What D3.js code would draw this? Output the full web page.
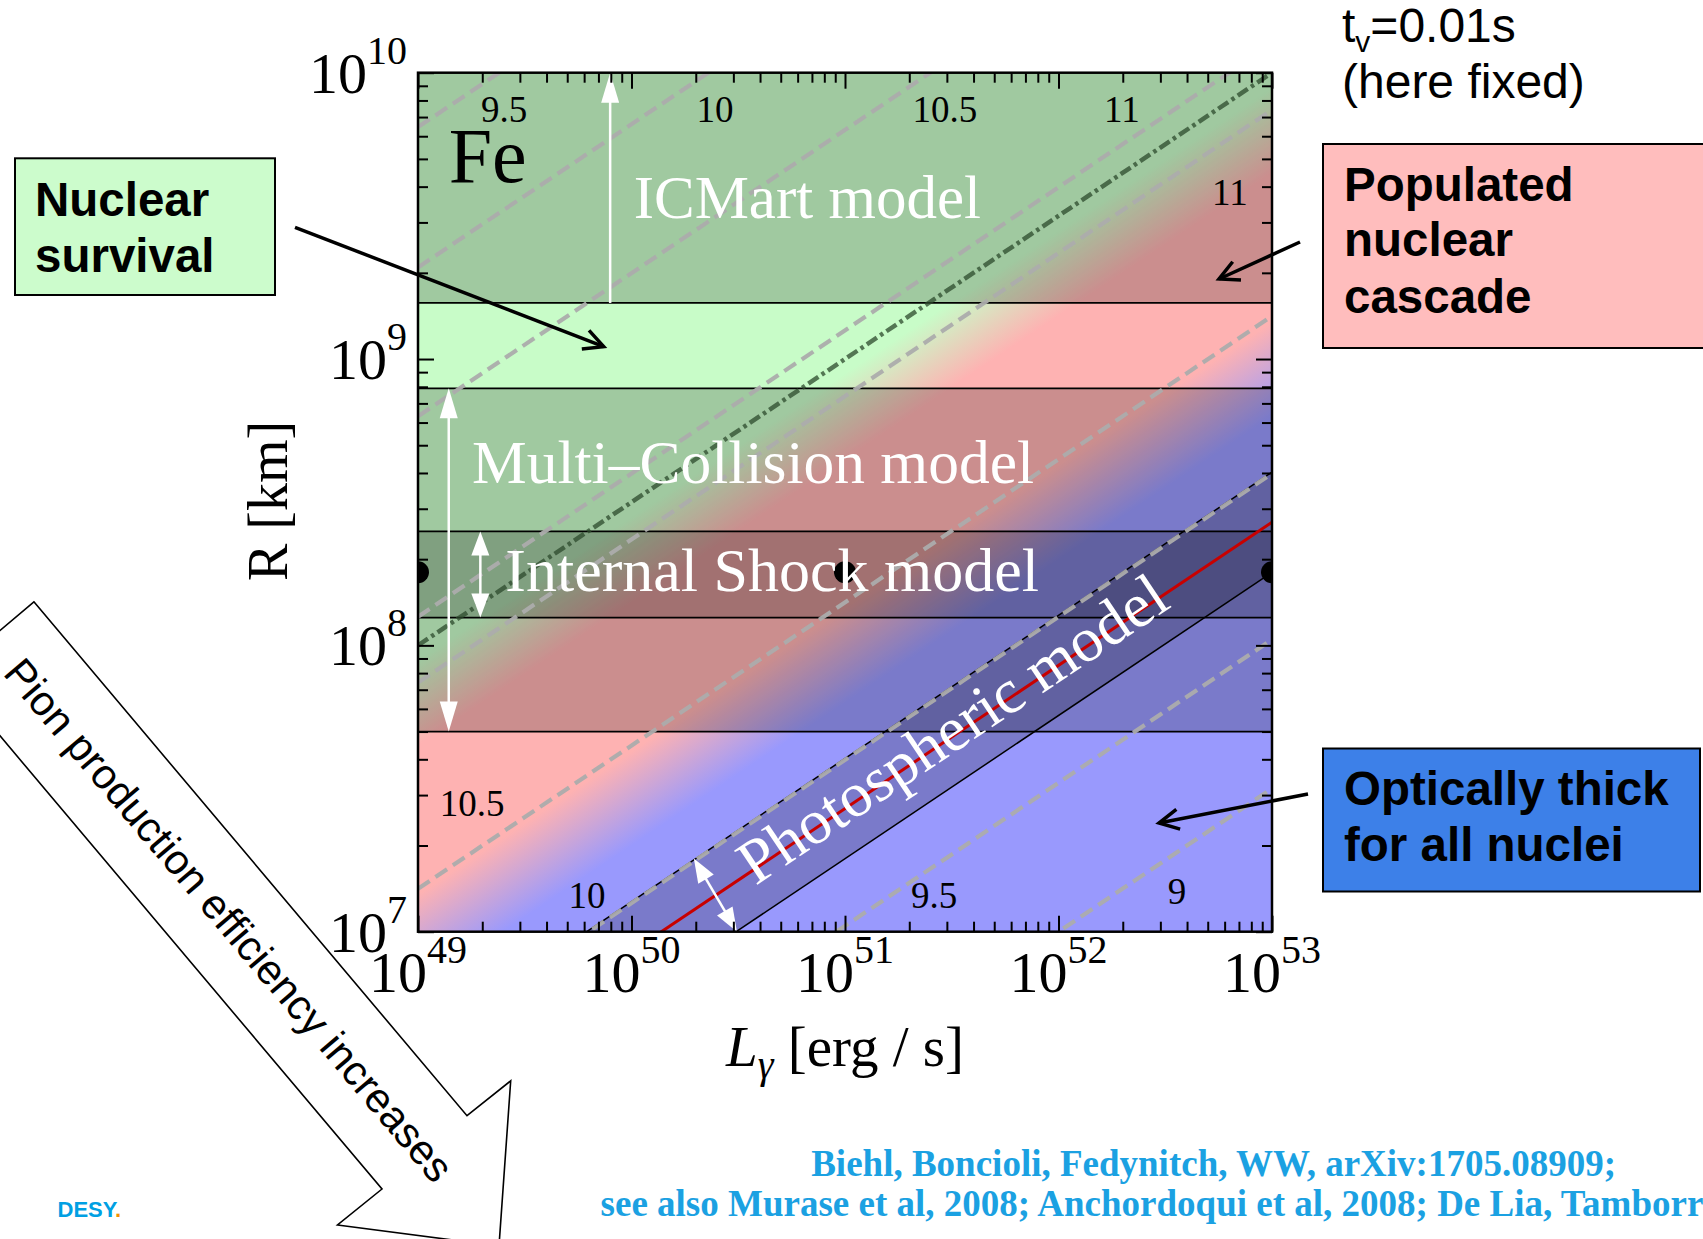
<!DOCTYPE html>
<html>
<head>
<meta charset="utf-8">
<script src="https://cdn.jsdelivr.net/npm/d3@7"></script>
<style>
  html, body { margin: 0; padding: 0; background: #fff; }
  svg { display: block; }
</style>
</head>
<body>
<svg id="chart" width="1703" height="1239"></svg>
<script>
// Parameter space of GRB emission models for iron nuclei:
// gamma-ray luminosity L_gamma [erg/s] versus collision radius R [km], t_v = 0.01 s.

// ---- axis decades -------------------------------------------------------
const lumExponents = [49, 50, 51, 52, 53];
const radiusExponents = [7, 8, 9, 10];

// ---- horizontal model regions (R in km) --------------------------------
const bandNames = ["ICMart", "Multi-Collision", "Internal Shock"];
const bandRmin = [1.57e9, 5e7, 1.25e8];
const bandRmax = [1e10, 7.9e8, 2.5e8];
const boundaryR = [1.57e9, 7.9e8, 2.5e8, 1.25e8, 5e7];

// ---- diagonal lines R ∝ L^(1/2), given as log10 R [km] at L = 1e52 erg/s --
const photoCenterR52 = 7.93;
const photoEdgesR52 = [8.105, 7.755];
const ridgeR52 = 9.5;
const contourR52 = [11.31, 10.82, 10.30, 9.60, 9.37, 8.65, 8.10, 7.52, 7.00];

// regime colour field (nuclear survival / populated cascade / optically thick)
const fieldStopR52 = [9.45, 9.15, 8.63, 8.30];
const fieldStopColors = ["#c8fcc8", "#feb2b2", "#feb2b2", "#9999fd"];

// contour labels: log10 of maximal energy, positions as log10 L, log10 R
const contourLabelText = ["9.5", "10", "10.5", "11", "11", "10.5", "10", "9.5", "9"];
const contourLabelL = [49.403, 50.391, 51.468, 52.297, 52.803, 49.253, 49.792, 51.417, 52.555];
const contourLabelR = [9.873, 9.873, 9.873, 9.873, 9.583, 7.449, 7.128, 7.125, 7.142];

// range arrows of the models
const arrowLogL = [49.90, 49.144, 49.292];
const arrowFromR = [1.57e9, 7.9e8, 2.5e8];
const arrowToR = [1e10, 5e7, 1.25e8];
const arrowDouble = [false, true, true];
const photoArrowL = [50.292, 50.494];
const photoArrowR = [7.256, 7.0];

// benchmark points of the internal shock model
const dotL = [1e49, 1e51, 1e53];
const dotR = [1.8e8, 1.8e8, 1.8e8];

// ---- layout -------------------------------------------------------------
const plot = { left: 418, right: 1272, top: 72.7, bottom: 931.7 };
const serif = "'Liberation Serif', 'Times New Roman', serif";
const sans = "'Liberation Sans', Arial, sans-serif";

const x = d3.scaleLog().domain([1e49, 1e53]).range([plot.left, plot.right]);
const y = d3.scaleLog().domain([1e7, 1e10]).range([plot.bottom, plot.top]);
// pixel y of the diagonal line labelled c at luminosity L
const diagY = (c, L) => y(Math.pow(10, c + 0.5 * (Math.log10(L) - 52)));

const svg = d3.select("#chart");
const defs = svg.append("defs");
defs.append("clipPath").attr("id", "plotClip").append("rect")
  .attr("x", plot.left).attr("y", plot.top)
  .attr("width", plot.right - plot.left).attr("height", plot.bottom - plot.top);

// ---- big outline arrow on the left --------------------------------------
const bigArrow = [[33.9, 601.8], [467, 1115.7], [510.7, 1080.8], [499, 1246],
                  [337.5, 1225], [382, 1189], [-51.9, 674.3]];
svg.append("polygon").attr("points", bigArrow.map(p => p.join(",")).join(" "))
  .attr("fill", "#fff").attr("stroke", "#000").attr("stroke-width", 1.6)
  .attr("stroke-linejoin", "miter");
svg.append("text")
  .attr("transform", "translate(229,920) rotate(49.8)")
  .attr("text-anchor", "middle").attr("dominant-baseline", "central")
  .attr("font-family", sans).attr("font-size", 42).attr("fill", "#000")
  .text("Pion production efficiency increases");

// ---- plot content (clipped) ---------------------------------------------
const inner = svg.append("g").attr("clip-path", "url(#plotClip)");

// regime colour field as a gradient perpendicular to the R ∝ L^(1/2) lines
const cHi = 9.8, cLo = 8.0, Lref = 1e51;
const ax0 = x(Lref), ay0 = diagY(cHi, Lref);
const dvx = x(1e52) - x(1e51), dvy = diagY(9, 1e52) - diagY(9, 1e51);
const dlen = Math.hypot(dvx, dvy);
const nx = -dvy / dlen, ny = dvx / dlen;
const sep = (diagY(cLo, Lref) - diagY(cHi, Lref)) * (dvx / dlen);
const grad = defs.append("linearGradient").attr("id", "regimeField")
  .attr("gradientUnits", "userSpaceOnUse")
  .attr("x1", ax0).attr("y1", ay0)
  .attr("x2", ax0 + nx * sep).attr("y2", ay0 + ny * sep);
fieldStopR52.forEach((c, i) => {
  grad.append("stop").attr("offset", (cHi - c) / (cHi - cLo))
    .attr("stop-color", fieldStopColors[i]);
});
inner.append("rect")
  .attr("x", plot.left).attr("y", plot.top)
  .attr("width", plot.right - plot.left).attr("height", plot.bottom - plot.top)
  .attr("fill", "url(#regimeField)");

// shaded model regions
inner.selectAll("rect.band").data(bandNames).join("rect").attr("class", "band")
  .attr("x", plot.left).attr("width", plot.right - plot.left)
  .attr("y", (d, i) => y(bandRmax[i]))
  .attr("height", (d, i) => y(bandRmin[i]) - y(bandRmax[i]))
  .attr("fill", "#000").attr("fill-opacity", 0.2);

const photoPoly = [
  [x(1e49), diagY(photoEdgesR52[0], 1e49)], [x(1e53), diagY(photoEdgesR52[0], 1e53)],
  [x(1e53), diagY(photoEdgesR52[1], 1e53)], [x(1e49), diagY(photoEdgesR52[1], 1e49)]
];
inner.append("polygon").attr("points", photoPoly.map(p => p.join(",")).join(" "))
  .attr("fill", "#000").attr("fill-opacity", 0.2);

// band boundaries
inner.selectAll("line.boundary").data(boundaryR).join("line").attr("class", "boundary")
  .attr("x1", plot.left).attr("x2", plot.right)
  .attr("y1", d => y(d)).attr("y2", d => y(d))
  .attr("stroke", "#000").attr("stroke-width", 1.8);

// photospheric band edges and central line
inner.selectAll("line.photoEdge").data(photoEdgesR52).join("line").attr("class", "photoEdge")
  .attr("x1", x(1e49)).attr("x2", x(1e53))
  .attr("y1", d => diagY(d, 1e49)).attr("y2", d => diagY(d, 1e53))
  .attr("stroke", "#000").attr("stroke-width", 1.5);
inner.append("line")
  .attr("x1", x(1e49)).attr("x2", x(1e53))
  .attr("y1", diagY(photoCenterR52, 1e49)).attr("y2", diagY(photoCenterR52, 1e53))
  .attr("stroke", "#c80000").attr("stroke-width", 3);

// contours of maximal energy
inner.selectAll("line.contour").data(contourR52).join("line").attr("class", "contour")
  .attr("x1", x(1e49)).attr("x2", x(1e53))
  .attr("y1", d => diagY(d, 1e49)).attr("y2", d => diagY(d, 1e53))
  .attr("stroke", "#acacac").attr("stroke-opacity", 0.95)
  .attr("stroke-width", 4.2).attr("stroke-dasharray", "14,7");
inner.append("line")
  .attr("x1", x(1e49)).attr("x2", x(1e53))
  .attr("y1", diagY(ridgeR52, 1e49)).attr("y2", diagY(ridgeR52, 1e53))
  .attr("stroke", "#2c4a2c").attr("stroke-opacity", 0.75)
  .attr("stroke-width", 4.5).attr("stroke-dasharray", "12,4,3.5,4");

// benchmark points
inner.selectAll("circle.bench").data(dotL).join("circle").attr("class", "bench")
  .attr("cx", d => x(d)).attr("cy", (d, i) => y(dotR[i])).attr("r", 11)
  .attr("fill", "#000");

// white range arrows
function headPoints(tx, ty, ux, uy, len, half) {
  const bx = tx - ux * len, by = ty - uy * len;
  return [[tx, ty], [bx - uy * half, by + ux * half], [bx + uy * half, by - ux * half]]
    .map(p => p.join(",")).join(" ");
}
function rangeArrow(g, x1, y1, x2, y2, both, len, half) {
  const dx = x2 - x1, dy = y2 - y1, L = Math.hypot(dx, dy);
  const ux = dx / L, uy = dy / L;
  const s = both ? len * 0.7 : 0;
  g.append("line")
    .attr("x1", x1 + ux * s).attr("y1", y1 + uy * s)
    .attr("x2", x2 - ux * len * 0.7).attr("y2", y2 - uy * len * 0.7)
    .attr("stroke", "#fff").attr("stroke-width", 2.5);
  g.append("polygon").attr("points", headPoints(x2, y2, ux, uy, len, half)).attr("fill", "#fff");
  if (both) g.append("polygon").attr("points", headPoints(x1, y1, -ux, -uy, len, half)).attr("fill", "#fff");
}
arrowLogL.forEach((lx, i) => {
  const px = x(Math.pow(10, lx));
  rangeArrow(inner, px, y(arrowFromR[i]), px, y(arrowToR[i]), arrowDouble[i],
             i === 2 ? 24 : 30, 9);
});
rangeArrow(inner,
  x(Math.pow(10, photoArrowL[0])), y(Math.pow(10, photoArrowR[0])),
  x(Math.pow(10, photoArrowL[1])), y(Math.pow(10, photoArrowR[1])), true, 24, 9);

// model names
const modelText = (txt, lx, lr, size) => inner.append("text")
  .attr("x", x(Math.pow(10, lx))).attr("y", y(Math.pow(10, lr)))
  .attr("font-family", serif).attr("font-size", size).attr("fill", "#fff").text(txt);
modelText("ICMart model", 50.01, 9.4915, 61);
modelText("Multi\u2013Collision model", 49.253, 8.567, 61.5);
modelText("Internal Shock model", 49.409, 8.191, 62);

const photoAngle = Math.atan2(dvy, dvx) * 180 / Math.PI;
const ptx = x(Math.pow(10, 51.52)), pty = diagY(photoCenterR52, Math.pow(10, 51.52));
inner.append("text")
  .attr("transform", `translate(${ptx},${pty}) rotate(${photoAngle})`)
  .attr("text-anchor", "middle").attr("dy", "0.23em")
  .attr("font-family", serif).attr("font-size", 63).attr("fill", "#fff")
  .text("Photospheric model");

inner.append("text")
  .attr("x", x(Math.pow(10, 49.144))).attr("y", y(Math.pow(10, 9.619)))
  .attr("font-family", serif).attr("font-size", 78).attr("fill", "#000").text("Fe");

// contour labels
inner.selectAll("text.clabel").data(contourLabelText).join("text").attr("class", "clabel")
  .attr("x", (d, i) => x(Math.pow(10, contourLabelL[i])))
  .attr("y", (d, i) => y(Math.pow(10, contourLabelR[i])))
  .attr("dy", "0.34em").attr("text-anchor", "middle")
  .attr("font-family", serif).attr("font-size", 37).attr("fill", "#000")
  .text(d => d);

// ---- ticks (inside, all four sides) -------------------------------------
const minorL = d3.range(49, 53).flatMap(e => d3.range(2, 10).map(m => m * Math.pow(10, e)));
const minorR = d3.range(7, 10).flatMap(e => d3.range(2, 10).map(m => m * Math.pow(10, e)));
const majorL = lumExponents.map(e => Math.pow(10, e));
const majorR = radiusExponents.map(e => Math.pow(10, e));

function tickLayer(axisFn, scale, values, size, transform) {
  const g = svg.append("g").attr("transform", transform)
    .call(axisFn(scale).tickValues(values).tickSize(-size).tickFormat(""));
  g.select(".domain").remove();
  g.selectAll(".tick line").attr("stroke", "#000").attr("stroke-width", 2);
}
tickLayer(d3.axisBottom, x, majorL, 16, `translate(0,${plot.bottom})`);
tickLayer(d3.axisBottom, x, minorL, 10, `translate(0,${plot.bottom})`);
tickLayer(d3.axisTop, x, majorL, 16, `translate(0,${plot.top})`);
tickLayer(d3.axisTop, x, minorL, 10, `translate(0,${plot.top})`);
tickLayer(d3.axisLeft, y, majorR, 16, `translate(${plot.left},0)`);
tickLayer(d3.axisLeft, y, minorR, 10, `translate(${plot.left},0)`);
tickLayer(d3.axisRight, y, majorR, 16, `translate(${plot.right},0)`);
tickLayer(d3.axisRight, y, minorR, 10, `translate(${plot.right},0)`);

svg.append("rect")
  .attr("x", plot.left).attr("y", plot.top)
  .attr("width", plot.right - plot.left).attr("height", plot.bottom - plot.top)
  .attr("fill", "none").attr("stroke", "#000").attr("stroke-width", 2.5);

// tick labels 10^n
radiusExponents.forEach(e => {
  const t = svg.append("text").attr("x", plot.left - 11).attr("y", y(Math.pow(10, e)) + 20)
    .attr("text-anchor", "end").attr("font-family", serif).attr("font-size", 58).attr("fill", "#000");
  t.append("tspan").text("10");
  t.append("tspan").attr("font-size", 40).attr("dy", -29).text(e);
});
lumExponents.forEach(e => {
  const t = svg.append("text").attr("x", x(Math.pow(10, e))).attr("y", 992)
    .attr("text-anchor", "middle").attr("font-family", serif).attr("font-size", 58).attr("fill", "#000");
  t.append("tspan").text("10");
  t.append("tspan").attr("font-size", 40).attr("dy", -29).text(e);
});

// axis titles
svg.append("text").attr("transform", "translate(287,501) rotate(-90)")
  .attr("text-anchor", "middle").attr("font-family", serif).attr("font-size", 56)
  .attr("fill", "#000").text("R [km]");
const xt = svg.append("text").attr("x", (plot.left + plot.right) / 2).attr("y", 1066)
  .attr("text-anchor", "middle").attr("font-family", serif).attr("font-size", 57).attr("fill", "#000");
xt.append("tspan").attr("font-style", "italic").text("L");
xt.append("tspan").attr("font-style", "italic").attr("font-size", 40).attr("dy", 12).text("\u03b3");
xt.append("tspan").attr("dy", -12).text(" [erg / s]");

// ---- annotations ----------------------------------------------------------
function boxLabel(bx, by, bw, bh, fill, lines, tx, baselines) {
  svg.append("rect").attr("x", bx).attr("y", by).attr("width", bw).attr("height", bh)
    .attr("fill", fill).attr("stroke", "#000").attr("stroke-width", 2);
  lines.forEach((s, i) => svg.append("text").attr("x", tx).attr("y", baselines[i])
    .attr("font-family", sans).attr("font-weight", "bold").attr("font-size", 47.5)
    .attr("fill", "#000").text(s));
}
boxLabel(15, 158.3, 260, 136.7, "#ccfccc", ["Nuclear", "survival"], 35, [216, 271.7]);
boxLabel(1323, 144, 420, 204, "#ffbdbd", ["Populated", "nuclear", "cascade"], 1344, [201, 256, 313]);
boxLabel(1323, 748.5, 377, 143, "#3d80e8", ["Optically thick", "for all nuclei"], 1344, [805, 861]);

function pointer(x1, y1, x2, y2) {
  const a = Math.atan2(y2 - y1, x2 - x1), len = 22, spread = 27 * Math.PI / 180;
  svg.append("line").attr("x1", x1).attr("y1", y1).attr("x2", x2).attr("y2", y2)
    .attr("stroke", "#000").attr("stroke-width", 3.5);
  const arm = s => [x2 - len * Math.cos(a + s), y2 - len * Math.sin(a + s)];
  const p1 = arm(spread), p2 = arm(-spread);
  svg.append("path").attr("d", `M${p1[0]},${p1[1]}L${x2},${y2}L${p2[0]},${p2[1]}`)
    .attr("fill", "none").attr("stroke", "#000").attr("stroke-width", 3.5)
    .attr("stroke-linejoin", "miter");
}
pointer(295, 227.3, 603.7, 346.7);
pointer(1300, 242, 1219, 279);
pointer(1308, 794, 1159, 823);

// variability timescale
const tv = svg.append("text").attr("x", 1342).attr("y", 42)
  .attr("font-family", sans).attr("font-size", 48).attr("fill", "#000");
tv.append("tspan").text("t");
tv.append("tspan").attr("font-size", 30).attr("dy", 10).text("v");
tv.append("tspan").attr("dy", -10).text("=0.01s");
svg.append("text").attr("x", 1342).attr("y", 98)
  .attr("font-family", sans).attr("font-size", 48).attr("fill", "#000").text("(here fixed)");

// references
svg.append("text").attr("x", 1213.6).attr("y", 1176).attr("text-anchor", "middle")
  .attr("font-family", serif).attr("font-weight", "bold").attr("font-size", 37)
  .attr("fill", "#1ba1e2").text("Biehl, Boncioli, Fedynitch, WW, arXiv:1705.08909;");
svg.append("text").attr("x", 600.6).attr("y", 1216)
  .attr("font-family", serif).attr("font-weight", "bold").attr("font-size", 37)
  .attr("fill", "#1ba1e2")
  .text("see also Murase et al, 2008; Anchordoqui et al, 2008; De Lia, Tamborra 2017");

// logo
const logo = svg.append("text").attr("x", 57.5).attr("y", 1216.5)
  .attr("font-family", sans).attr("font-weight", "bold").attr("font-size", 22);
logo.append("tspan").attr("fill", "#00a0e3").text("DESY");
logo.append("tspan").attr("fill", "#f39200").text(".");
</script>
</body>
</html>
